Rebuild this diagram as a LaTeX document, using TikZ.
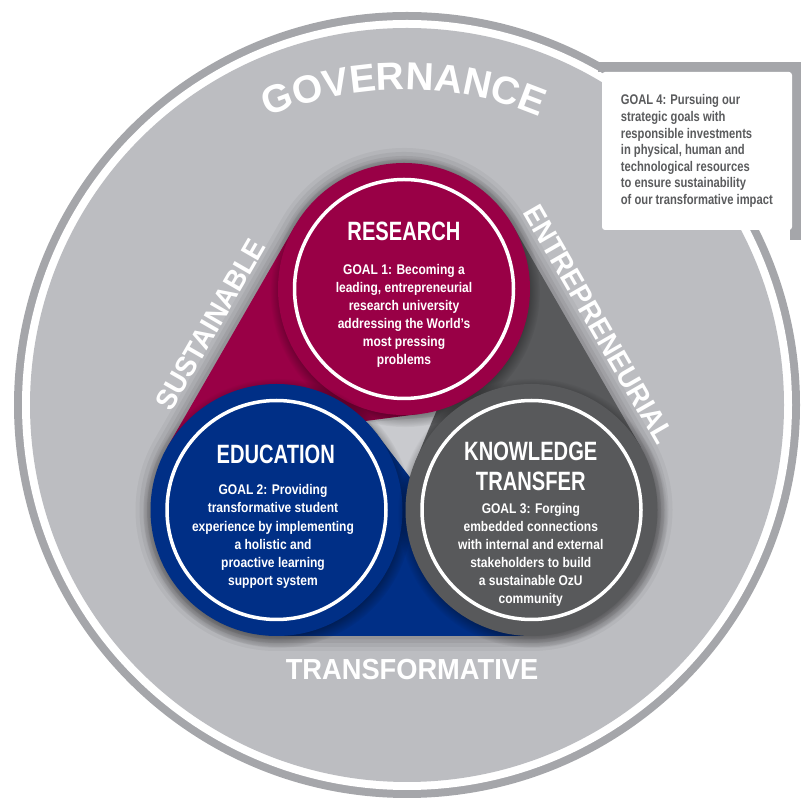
\documentclass[tikz,border=0pt]{standalone}
\usepackage{fontspec}
\setmainfont{Liberation Sans}
\newfontfamily\bodyf[FakeStretch=0.86]{Liberation Sans Bold}
\newfontfamily\boxf[FakeStretch=0.80]{Liberation Sans Bold}
\newfontfamily\headf[FakeStretch=0.76]{Liberation Sans Bold}
\newfontfamily\labf[FakeStretch=0.94]{Liberation Sans Bold}
\newfontfamily\govf[FakeStretch=1.0]{Liberation Sans Bold}
\usetikzlibrary{decorations.text,shadows,calc}
\definecolor{bandgray}{HTML}{A5A6AA}
\definecolor{discgray}{HTML}{BCBDC1}
\definecolor{magentaC}{HTML}{990046}
\definecolor{blueC}{HTML}{002F86}
\definecolor{dgrayC}{HTML}{58595B}
\definecolor{boxtextC}{HTML}{5A5B5D}
\tikzset{
  disc/.style={circle, minimum size=252pt, inner sep=0pt, draw=none,
    circular drop shadow={shadow xshift=1pt, shadow yshift=-3pt, shadow scale=1.07, opacity=0.55, fill=black}},
  ringline/.style={draw=white, line width=3.5pt},
  titletxt/.style={text=white, inner sep=0pt, align=center, font=\headf\fontsize{26.5}{30}\selectfont},
  bodytxt/.style={text=white, inner sep=0pt, align=center, font=\bodyf\fontsize{14}{18.1}\selectfont},
  labeltxt/.style={text=white, inner sep=0pt, font=\labf\fontsize{29}{30}\selectfont},
  boxtxt/.style={text=boxtextC, inner sep=0pt, align=left, font=\boxf\fontsize{14}{16.6}\selectfont}
}
\begin{document}
\begin{tikzpicture}[x=1pt,y=1pt]
\useasboundingbox (0,0) rectangle (801,806);
% big disc
\fill[bandgray] (407,401) circle (393);
\fill[white] (407,401) circle (385);
\fill[discgray] (407,401) circle (377);
% central gap: a lighter tone
\fill[discgray!80!white] (370,384) -- (433,389) -- (409,328) -- cycle;
% goal 4 box with its band frame (top and right)
\fill[bandgray] (598,734) rectangle (801,744);
\fill[bandgray] (790,566) rectangle (801,744);
\fill[white, rounded corners=3pt] (602,576) rectangle (792,734);
\node[boxtxt, anchor=west] (goalfour) at (620.7,655) {GOAL 4: Pursuing our\\strategic goals with\\responsible investments\\in physical, human and\\technological resources\\to ensure sustainability\\of our transformative impact};
% soft halo around triangle
\foreach \w/\o in {30/0.04,22/0.05,14/0.06,7/0.07}{
  \draw[black, opacity=\o, line width=\w pt, line join=round]
    (167.4,359) -- (294.9,580) arc[start angle=150,end angle=30,radius=126]
    -- (640.6,359) arc[start angle=30,end angle=-90,radius=126]
    -- (276.5,170) arc[start angle=270,end angle=150,radius=126] -- cycle;
}
% tails
\fill[magentaC] (167.4,359) -- (294.9,580) -- (420.5,392.2) -- cycle;
\fill[blueC] (531.5,170.1) -- (276.4,170.0) -- (376.2,372.7) -- cycle;
\fill[dgrayC] (513.1,579.9) -- (640.7,359.0) -- (415.3,344.1) -- cycle;
% circles
\node[disc, fill=magentaC] (research) at (404,517) {};
\node[disc, fill=blueC] (education) at (276.5,296) {};
\node[disc, fill=dgrayC] (knowledge) at (531.5,296) {};
\draw[ringline] (research.center) circle (109.5);
\draw[ringline] (education.center) circle (109.5);
\draw[ringline] (knowledge.center) circle (109.5);
% texts
\node[titletxt] (rtitle) at (404,575) {RESEARCH};
\node[bodytxt] (rbody) at (404,490) {GOAL 1: Becoming a\\leading, entrepreneurial\\research university\\addressing the World’s\\most pressing\\problems};
\node[titletxt] (etitle) at (275.8,352) {EDUCATION};
\node[bodytxt] (ebody) at (273,269.5) {GOAL 2: Providing\\transformative student\\experience by implementing\\a holistic and\\proactive learning\\support system};
\node[titletxt] (ktitle) at (530.8,355) {KNOWLEDGE};
\node[titletxt] (ktitleb) at (530.8,325) {TRANSFER};
\node[bodytxt] (kbody) at (530.8,251) {GOAL 3: Forging\\embedded connections\\with internal and external\\stakeholders to build\\a sustainable OzU\\community};
% edge labels
\node[labeltxt, rotate=60] (sust) at (210.4,481.5) {SUSTAINABLE};
\node[labeltxt, rotate=-60] (entr) at (598.5,481.5) {ENTREPRENEURIAL};
\node[labeltxt] (trans) at (412,136.5) {TRANSFORMATIVE};
% GOVERNANCE arc
\coordinate (govc) at (404,369.7);
\path[decorate, decoration={text along path, text align=center,
  text={|\govf\fontsize{39}{40}\selectfont\color{white}|GOVERNANCE}}]
  ([shift={(120:347)}]govc) arc[start angle=120,end angle=60,radius=347];
\end{tikzpicture}
\end{document}
